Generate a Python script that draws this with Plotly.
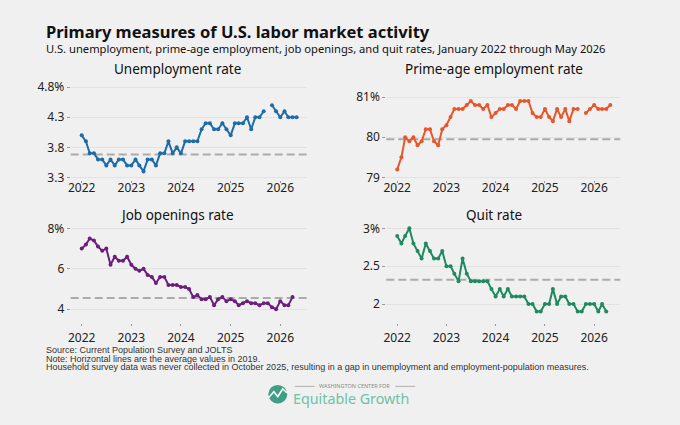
import pandas as pd
import plotly.graph_objects as go

# monthly data, Jan 2022 - May 2026 (Oct 2025 missing for household survey)
months = pd.date_range("2022-01-01", periods=53, freq="MS")

unemployment = [4.0, 3.9, 3.7, 3.7, 3.6, 3.6, 3.5, 3.6, 3.5, 3.6, 3.6, 3.5,
                3.5, 3.6, 3.5, 3.4, 3.6, 3.6, 3.5, 3.7, 3.7, 3.9, 3.7, 3.8,
                3.7, 3.9, 3.9, 3.9, 3.9, 4.1, 4.2, 4.2, 4.1, 4.1, 4.2, 4.1,
                4.0, 4.2, 4.2, 4.2, 4.3, 4.1, 4.3, 4.3, 4.4, None, 4.5, 4.4,
                4.3, 4.4, 4.3, 4.3, 4.3]

prime_age_epop = [79.2, 79.5, 80.0, 79.9, 80.0, 79.8, 79.9, 80.2, 80.2, 79.9, 79.8, 80.2,
                  80.3, 80.5, 80.7, 80.7, 80.7, 80.8, 80.9, 80.8, 80.8, 80.7, 80.8, 80.5,
                  80.6, 80.7, 80.7, 80.8, 80.8, 80.7, 80.9, 80.9, 80.9, 80.6, 80.5, 80.5,
                  80.7, 80.5, 80.4, 80.7, 80.5, 80.7, 80.4, 80.7, 80.7, None, 80.6, 80.7,
                  80.8, 80.7, 80.7, 80.7, 80.8]

# JOLTS series end in April 2026
job_openings = [7.0, 7.2, 7.5, 7.4, 7.1, 6.9, 7.0, 6.2, 6.6, 6.4, 6.4, 6.6,
                6.2, 6.0, 5.9, 6.0, 5.7, 5.6, 5.3, 5.6, 5.6, 5.2, 5.2, 5.2,
                5.1, 5.1, 5.0, 4.6, 4.7, 4.5, 4.5, 4.6, 4.2, 4.5, 4.6, 4.4,
                4.5, 4.4, 4.2, 4.3, 4.4, 4.3, 4.3, 4.2, 4.3, 4.3, 4.1, 4.0,
                4.4, 4.2, 4.2, 4.6]

quit_rate = [2.9, 2.8, 2.9, 3.0, 2.8, 2.7, 2.6, 2.8, 2.7, 2.6, 2.6, 2.7,
             2.5, 2.5, 2.4, 2.3, 2.6, 2.4, 2.3, 2.3, 2.3, 2.3, 2.3, 2.2,
             2.1, 2.2, 2.1, 2.2, 2.1, 2.1, 2.1, 2.1, 2.0, 2.0, 1.9, 1.9,
             2.0, 2.0, 2.2, 2.0, 2.1, 2.1, 2.0, 2.0, 1.9, 1.9, 2.0, 2.0,
             2.0, 1.9, 2.0, 1.9]

# 2019 averages (dashed lines)
avg_2019 = [3.68, 79.95, 4.55, 2.32]

panel_titles = ["Unemployment rate", "Prime-age employment rate", "Job openings rate", "Quit rate"]
series = [unemployment, prime_age_epop, job_openings, quit_rate]
colors = ["#1b6ca8", "#e8562b", "#6a1f7c", "#1f8a60"]

y_tickvals = [[3.3, 3.8, 4.3, 4.8], [79, 80, 81], [4, 6, 8], [2, 2.5, 3]]
y_ticktext = [["3.3", "3.8", "4.3", "4.8%"], ["79", "80", "81%"], ["4", "6", "8%"], ["2", "2.5", "3%"]]
y_ranges = [[3.26, 4.87], [78.94, 81.35], [3.34, 8.21], [1.755, 3.055]]

year_ticks = ["2022-01-01", "2023-01-01", "2024-01-01", "2025-01-01", "2026-01-01"]
year_labels = ["2022", "2023", "2024", "2025", "2026"]

W, H = 680, 425
BG = "#f0f0f0"
FONT = "Noto Sans"

def px(v):
    return v / W

def py(v):
    return 1 - v / H

# panel boxes in pixels: (left, right, top, bottom)
boxes = [(68, 305, 80, 179.5), (385, 620, 80, 179.5), (68, 305, 225, 326), (385, 620, 225, 326)]
title_pos = [(175, 66), (493, 66), (175, 216), (493, 216)]
label_shift = [-5, -5, 2, 2]

fig = go.Figure()

for i in range(4):
    n = "" if i == 0 else str(i + 1)
    vals = series[i]
    fig.add_trace(go.Scatter(
        x=months[:len(vals)], y=vals,
        mode="lines+markers",
        line=dict(color=colors[i], width=2),
        marker=dict(color=colors[i], size=4),
        connectgaps=False,
        showlegend=False,
        xaxis="x" + n, yaxis="y" + n,
    ))
    l, r, t, b = boxes[i]
    fig.update_layout(**{
        "xaxis" + n: dict(
            domain=[px(l), px(r)], anchor="y" + n,
            range=["2021-10-12", "2026-07-14"],
            tickvals=year_ticks, ticktext=year_labels,
            showgrid=False, zeroline=False, showline=False,
            ticks="outside", ticklen=2, tickcolor="#999999",
            ticklabelstandoff=label_shift[i],
            tickfont=dict(size=12, color="#222222", family=FONT),
        ),
        "yaxis" + n: dict(
            domain=[py(b), py(t)], anchor="x" + n,
            range=y_ranges[i],
            tickvals=y_tickvals[i], ticktext=y_ticktext[i],
            showgrid=True, gridcolor="#e2e2e2", gridwidth=1,
            zeroline=False, showline=False,
            ticks="outside", ticklen=3, tickcolor="#999999",
            tickfont=dict(size=12, color="#222222", family=FONT),
        ),
    })
    # 2019 average
    fig.add_shape(type="line", xref="x" + n + " domain", yref="y" + n,
                  x0=0, x1=1, y0=avg_2019[i], y1=avg_2019[i],
                  line=dict(color="#ababab", width=2, dash="8px,4px"), layer="below")
    tx, ty = title_pos[i]
    fig.add_annotation(text=panel_titles[i], xref="paper", yref="paper",
                       x=px(tx), y=py(ty), xanchor="center", yanchor="middle",
                       showarrow=False, font=dict(size=13.5, color="#111111", family=FONT))

# headline and subtitle
fig.add_annotation(text="<b>Primary measures of U.S. labor market activity</b>",
                   xref="paper", yref="paper", x=px(41), y=py(27),
                   xanchor="left", yanchor="middle", showarrow=False,
                   font=dict(size=16.5, color="#111111", family=FONT))
fig.add_annotation(text="U.S. unemployment, prime-age employment, job openings, and quit rates, January 2022 through May 2026",
                   xref="paper", yref="paper", x=px(41), y=py(45),
                   xanchor="left", yanchor="middle", showarrow=False,
                   font=dict(size=11.2, color="#111111", family=FONT))

# notes
notes = ["Source: Current Population Survey and JOLTS",
         "Note: Horizontal lines are the average values in 2019.",
         "Household survey data was never collected in October 2025, resulting in a gap in unemployment and employment-population measures."]
for k, line in enumerate(notes):
    fig.add_annotation(text=line, xref="paper", yref="paper", x=px(42), y=py(354.5 + 8.7 * k),
                       xanchor="left", yanchor="middle", showarrow=False, borderpad=0,
                       font=dict(size=9, color="#333333", family="Liberation Sans"))

# logo
fig.add_shape(type="circle", xref="paper", yref="paper",
              x0=px(266.5), x1=px(285.5), y0=py(409), y1=py(390),
              fillcolor="#3f9f86", line=dict(width=0))
fig.add_shape(type="path", xref="paper", yref="paper",
              path="M {} {} L {} {} L {} {} L {} {} L {} {}".format(
                  px(267), py(403), px(272), py(397), px(276), py(402), px(281), py(394), px(285), py(398)),
              line=dict(color="white", width=1.6))
fig.add_shape(type="line", xref="paper", yref="paper", x0=px(293), x1=px(313), y0=py(391.5), y1=py(391.5),
              line=dict(color="#b0b0b0", width=1))
fig.add_shape(type="line", xref="paper", yref="paper", x0=px(394), x1=px(414), y0=py(391.5), y1=py(391.5),
              line=dict(color="#b0b0b0", width=1))
fig.add_annotation(text="WASHINGTON CENTER FOR", xref="paper", yref="paper", x=px(353.5), y=py(391.5),
                   xanchor="center", yanchor="middle", showarrow=False, borderpad=0,
                   font=dict(size=5.5, color="#8a8a8a", family=FONT))
fig.add_annotation(text="Equitable Growth", xref="paper", yref="paper", x=px(290), y=py(404),
                   xanchor="left", yanchor="middle", showarrow=False, borderpad=0,
                   font=dict(size=14.3, color="#6cc3a6", family=FONT))

fig.update_layout(
    width=W, height=H,
    margin=dict(l=0, r=0, t=0, b=0),
    paper_bgcolor=BG, plot_bgcolor=BG,
    font=dict(family=FONT),
    showlegend=False,
)

# page without the default body margin so the figure fills the window
fig.write_html("out.html", config={"displayModeBar": False},
               post_script="document.body.style.margin='0';document.body.style.background='#f0f0f0';")
